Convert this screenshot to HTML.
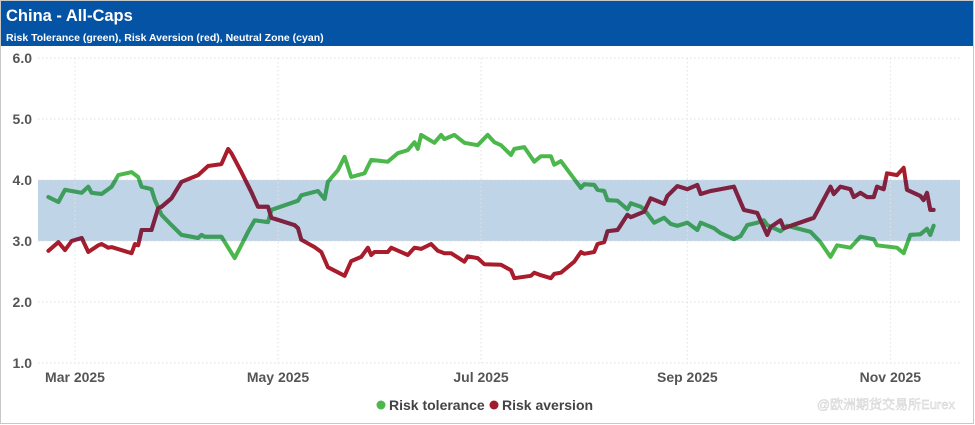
<!DOCTYPE html>
<html><head><meta charset="utf-8"><style>
body{margin:0;background:#fff;font-family:"Liberation Sans",sans-serif}
#wrap{position:relative;width:975px;height:425px;overflow:hidden}
</style></head><body>
<div id="wrap">
<svg id="chart" width="975" height="425" viewBox="0 0 975 425" xmlns="http://www.w3.org/2000/svg">
<defs><clipPath id="bandclip"><rect id="bandcliprect" x="0" y="0" width="0" height="0"/></clipPath></defs>
<rect x="0.5" y="0.5" width="973" height="423" fill="#fff" stroke="#c8c8c8"/>
<rect x="1" y="1" width="972" height="45" fill="#0553a5"/>
<text x="6" y="21" fill="#fff" font-size="16.5" font-weight="bold">China - All-Caps</text>
<text x="6" y="41" fill="#fff" font-size="10.5" font-weight="bold">Risk Tolerance (green), Risk Aversion (red), Neutral Zone (cyan)</text>
<g id="band"></g><g id="grid"></g><g id="lines"></g><g id="lines2" clip-path="url(#bandclip)"></g><g id="axes"></g>
<g>
<g><circle cx="381" cy="405" r="4.5" fill="#4cb84c"/><text x="389" y="410" font-size="14" font-weight="bold" fill="#444">Risk tolerance</text></g>
<g><circle cx="494" cy="405" r="4.5" fill="#a01c2c"/><text x="502" y="410" font-size="14" font-weight="bold" fill="#444">Risk aversion</text></g>
</g>
<text x="955" y="409" text-anchor="end" font-size="13" fill="#f4f4f4" stroke="#ccc" stroke-width="0.4">@欧洲期货交易所Eurex</text>
</svg>
</div>
<script>
const yTicks=[1,2,3,4,5,6];
const xTickDays=[0,61,122,184,245];
const xTickLabels=["Mar 2025","May 2025","Jul 2025","Sep 2025","Nov 2025"];
const bandRange=[3,4];
const tolDays=[-8,-5,-3,2,4,5,8,11,13,17,19,20,23,24,26,29,32,37,38,39,44,48,52,54,58,59,67,68,73,75,76,79,81,83,87,89,94,97,100,102,103,104,108,110,111,114,117,121,124,126,128,131,132,135,138,140,143,144,146,152,153,156,157,159,160,163,166,167,170,171,174,177,179,181,184,187,188,192,194,198,200,202,205,207,208,212,214,221,224,227,229,233,236,240,241,247,249,251,254,256,257,258];
const tolVals=[3.72,3.64,3.84,3.79,3.89,3.79,3.77,3.89,4.08,4.13,4.05,3.89,3.85,3.67,3.43,3.26,3.10,3.05,3.10,3.07,3.07,2.72,3.15,3.34,3.31,3.51,3.66,3.75,3.82,3.69,3.97,4.16,4.38,4.05,4.11,4.33,4.30,4.44,4.49,4.62,4.51,4.74,4.61,4.74,4.67,4.74,4.61,4.57,4.74,4.62,4.57,4.41,4.51,4.54,4.30,4.39,4.39,4.25,4.31,3.87,3.93,3.92,3.84,3.82,3.67,3.66,3.52,3.62,3.56,3.52,3.30,3.38,3.28,3.25,3.30,3.18,3.30,3.21,3.13,3.03,3.08,3.26,3.30,3.34,3.26,3.16,3.25,3.15,2.98,2.74,2.93,2.89,3.07,3.03,2.93,2.89,2.80,3.10,3.11,3.20,3.10,3.25];
const aveDays=[-8,-5,-3,-1,2,4,7,8,10,11,17,18,19,20,23,25,26,29,32,37,40,44,46,47,50,53,55,58,59,66,67,68,72,74,76,81,83,86,88,89,90,94,95,100,102,104,107,109,111,113,117,118,121,123,128,131,132,137,138,140,143,144,146,150,152,153,156,157,159,160,163,164,166,167,171,173,177,178,181,184,187,188,191,193,198,201,205,208,209,212,213,222,227,228,230,233,234,236,238,240,241,243,244,247,249,250,254,255,256,257,258];
const aveVals=[2.84,2.98,2.85,3.00,3.05,2.82,2.93,2.95,2.89,2.90,2.80,2.95,2.93,3.18,3.18,3.54,3.56,3.70,3.97,4.08,4.23,4.26,4.51,4.44,4.13,3.80,3.56,3.56,3.38,3.26,3.21,3.02,2.90,2.82,2.57,2.43,2.67,2.74,2.89,2.77,2.82,2.82,2.89,2.77,2.89,2.87,2.95,2.84,2.80,2.80,2.66,2.75,2.72,2.62,2.61,2.52,2.39,2.43,2.48,2.44,2.39,2.46,2.48,2.66,2.82,2.79,2.82,2.95,2.98,3.16,3.18,3.26,3.43,3.39,3.48,3.70,3.61,3.74,3.90,3.85,3.92,3.77,3.82,3.84,3.89,3.51,3.46,3.10,3.23,3.34,3.21,3.38,3.89,3.77,3.89,3.85,3.72,3.79,3.72,3.72,3.89,3.85,4.11,4.08,4.20,3.84,3.74,3.67,3.79,3.51,3.51];

const X0=38,X1=960;
function xs(d){return 75+d*3.328;}
function ys(v){return 363-(v-1)*61;}
const NS="http://www.w3.org/2000/svg";
function mk(tag,attrs,parent){const e=document.createElementNS(NS,tag);for(const k in attrs)e.setAttribute(k,attrs[k]);parent.appendChild(e);return e;}
const grid=document.getElementById('grid'),axes=document.getElementById('axes'),lines=document.getElementById('lines'),lines2=document.getElementById('lines2'),band=document.getElementById('band');
const by=ys(bandRange[1]),bh=ys(bandRange[0])-ys(bandRange[1]);
const b=mk('rect',{x:X0,y:by,width:X1-X0,height:bh,fill:'#bfd4e7'},band);


const cr=document.getElementById('bandcliprect');
cr.setAttribute('x',X0);cr.setAttribute('y',by);cr.setAttribute('width',X1-X0);cr.setAttribute('height',bh);
yTicks.forEach(t=>{
  const l=mk('line',{x1:X0,x2:X1,y1:ys(t),y2:ys(t),stroke:'#dcdcdc','stroke-dasharray':'1.5,2.5'},grid);
  
  
  const tx=mk('text',{x:32,y:ys(t)+5,'text-anchor':'end','font-size':'14','font-weight':'bold',fill:'#555'},axes);
  tx.textContent=t.toFixed(1);
  
  
});
xTickDays.forEach((d,i)=>{
  const l=mk('line',{x1:xs(d),x2:xs(d),y1:ys(6),y2:ys(1),stroke:'#e2e2e2','stroke-dasharray':'1.5,2.5'},grid);
  
  
  const tx=mk('text',{x:xs(d),y:382,'text-anchor':'middle','font-size':'14','font-weight':'bold',fill:'#555'},axes);
  tx.textContent=xTickLabels[i];
  
  
});
function path(days,vals,color,name,parent){
  const d=days.map((dd,i)=>(i?'L':'M')+xs(dd).toFixed(1)+','+ys(vals[i]).toFixed(1)).join('');
  const p=mk('path',{d:d,fill:'none',stroke:color,'stroke-width':'4','stroke-linejoin':'round','stroke-linecap':'round'},parent);
  
  
}
path(tolDays,tolVals,'#4cb84c','risk-tolerance-line',lines);
path(aveDays,aveVals,'#a81c2c','risk-aversion-line',lines);
path(tolDays,tolVals,'#3e9c5e','risk-tolerance-line-neutral',lines2);
path(aveDays,aveVals,'#7e2242','risk-aversion-line-neutral',lines2);
</script>
</body></html>
